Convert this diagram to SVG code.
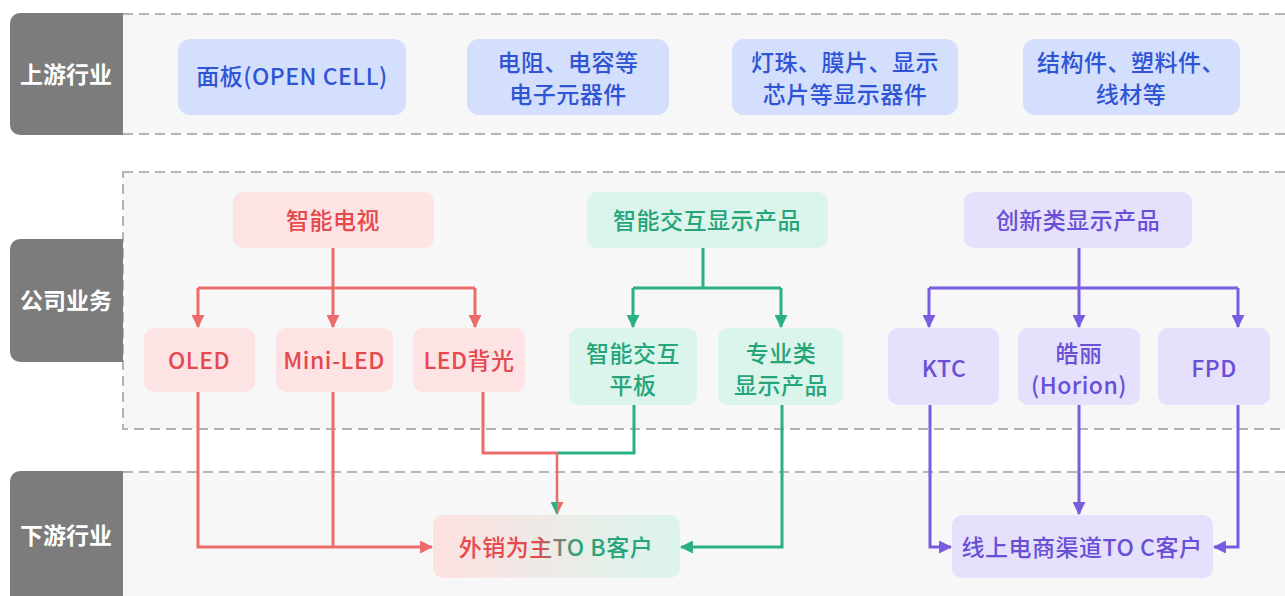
<svg xmlns="http://www.w3.org/2000/svg" width="1285" height="596" viewBox="0 0 1285 596">
<defs>
<style>
.band{fill:#f7f7f7;}
.dash{fill:none;stroke:#b4b4b4;stroke-width:2;stroke-dasharray:10 6;}
.lab{fill:#7c7c7c;}
.labt{font-family:"Noto Sans CJK SC","Noto Sans",sans-serif;font-size:23px;font-weight:700;fill:#ffffff;text-anchor:middle;dominant-baseline:central;}
.t{font-family:"Noto Sans CJK SC","Noto Sans",sans-serif;font-size:23px;font-weight:500;text-anchor:middle;dominant-baseline:central;letter-spacing:0.5px;}
.nb{fill:#d4defd;} .tb{fill:#2f55d4;}
.nr{fill:#fde3e3;} .tr{fill:#e5484d;}
.ng{fill:#dcf5ec;} .tg{fill:#27a57a;}
.np{fill:#e5e0fb;} .tp{fill:#6a4fd6;}
.lr{fill:none;stroke:#ee6b6b;stroke-width:3;}
.lg{fill:none;stroke:#2bb083;stroke-width:3;}
.lp{fill:none;stroke:#7a5ce0;stroke-width:3;}
</style>
<marker id="ar" viewBox="0 0 12 12" markerWidth="13" markerHeight="13" refX="11" refY="6" orient="auto" markerUnits="userSpaceOnUse"><path d="M0,0 L12,6 L0,12 z" fill="#ee6b6b"/></marker>
<marker id="ag" viewBox="0 0 12 12" markerWidth="13" markerHeight="13" refX="11" refY="6" orient="auto" markerUnits="userSpaceOnUse"><path d="M0,0 L12,6 L0,12 z" fill="#2bb083"/></marker>
<marker id="ap" viewBox="0 0 12 12" markerWidth="13" markerHeight="13" refX="11" refY="6" orient="auto" markerUnits="userSpaceOnUse"><path d="M0,0 L12,6 L0,12 z" fill="#7a5ce0"/></marker>
<linearGradient id="gm" x1="0" y1="0" x2="0" y2="1"><stop offset="0.5" stop-color="#ee6b6b"/><stop offset="0.5" stop-color="#2bb083"/></linearGradient>
<marker id="arg" viewBox="0 0 12 12" markerWidth="13" markerHeight="13" refX="11" refY="6" orient="auto" markerUnits="userSpaceOnUse"><path d="M0,0 L12,6 L0,12 z" fill="url(#gm)"/></marker>
<linearGradient id="gbox" x1="0" y1="0" x2="1" y2="0"><stop offset="0" stop-color="#fde1e1"/><stop offset="1" stop-color="#dbf5ec"/></linearGradient>
<linearGradient id="gtxt" x1="0" y1="0" x2="1" y2="0"><stop offset="0.4" stop-color="#e5484d"/><stop offset="0.5" stop-color="#8a7a70"/><stop offset="0.62" stop-color="#27a57a"/></linearGradient>
</defs>

<g id="bands">
<rect class="band" x="123" y="14" width="1162" height="120"/>
<path class="dash" d="M123 14 H1285 M123 134 H1285"/>
<rect class="band" x="123" y="172" width="1170" height="257"/>
<rect class="dash" x="123" y="172" width="1170" height="257"/>
<rect class="band" x="123" y="472" width="1162" height="124"/>
<path class="dash" d="M123 472 H1285"/>
</g>

<g id="label-upstream">
<path class="lab" d="M123 13 V135 H20 a10 10 0 0 1 -10 -10 V23 a10 10 0 0 1 10 -10 z"/>
<text class="labt" x="66" y="73">上游行业</text>
</g>
<g id="label-business">
<path class="lab" d="M123 239 V362 H20 a10 10 0 0 1 -10 -10 V249 a10 10 0 0 1 10 -10 z"/>
<text class="labt" x="66" y="299">公司业务</text>
</g>
<g id="label-downstream">
<path class="lab" d="M123 471 V596 H10 V481 a10 10 0 0 1 10 -10 z"/>
<text class="labt" x="66" y="534">下游行业</text>
</g>

<g id="up1"><rect class="nb" x="178" y="39" width="228" height="76" rx="12"/><text class="t tb" x="292" y="75">面板(OPEN CELL)</text></g>
<g id="up2"><rect class="nb" x="467" y="39" width="202" height="76" rx="12"/><text class="t tb" x="568" y="61">电阻、电容等</text><text class="t tb" x="568" y="93">电子元器件</text></g>
<g id="up3"><rect class="nb" x="732" y="39" width="226" height="76" rx="12"/><text class="t tb" x="845" y="61">灯珠、膜片、显示</text><text class="t tb" x="845" y="93">芯片等显示器件</text></g>
<g id="up4"><rect class="nb" x="1023" y="39" width="217" height="76" rx="12"/><text class="t tb" x="1131" y="61">结构件、塑料件、</text><text class="t tb" x="1131" y="93">线材等</text></g>

<g id="connectors">
<path class="lr" d="M333 248 V327" marker-end="url(#ar)"/>
<path class="lr" d="M198 288 H475"/>
<path class="lr" d="M198 288 V327" marker-end="url(#ar)"/>
<path class="lr" d="M475 288 V327" marker-end="url(#ar)"/>
<path class="lg" d="M703 248 V288"/>
<path class="lg" d="M633 288 H781"/>
<path class="lg" d="M633 288 V327" marker-end="url(#ag)"/>
<path class="lg" d="M781 288 V327" marker-end="url(#ag)"/>
<path class="lp" d="M1079 248 V327" marker-end="url(#ap)"/>
<path class="lp" d="M929 288 H1238"/>
<path class="lp" d="M929 288 V327" marker-end="url(#ap)"/>
<path class="lp" d="M1238 288 V327" marker-end="url(#ap)"/>
<path class="lr" d="M198 392 V547 H432" marker-end="url(#ar)"/>
<path class="lr" d="M333 392 V547"/>
<path class="lg" d="M634 405 V453 H557"/>
<path class="lr" d="M483 392 V453 H557"/>
<path class="lr" d="M557 453 V514" marker-end="url(#arg)" style="stroke-width:2.5"/>
<path class="lg" d="M782 405 V547 H681" marker-end="url(#ag)"/>
<path class="lp" d="M930 405 V547 H951" marker-end="url(#ap)"/>
<path class="lp" d="M1079 405 V514" marker-end="url(#ap)"/>
<path class="lp" d="M1238 405 V547 H1214" marker-end="url(#ap)"/>
</g>

<g id="tv"><rect class="nr" x="233" y="192" width="201" height="56" rx="10"/><text class="t tr" x="333" y="219">智能电视</text></g>
<g id="oled"><rect class="nr" x="144" y="328" width="111" height="64" rx="10"/><text class="t tr" x="199" y="359">OLED</text></g>
<g id="miniled"><rect class="nr" x="276" y="328" width="117" height="64" rx="10"/><text class="t tr" x="334" y="359">Mini-LED</text></g>
<g id="ledbl"><rect class="nr" x="413" y="328" width="112" height="64" rx="10"/><text class="t tr" x="469" y="359">LED背光</text></g>

<g id="interactive"><rect class="ng" x="587" y="192" width="241" height="56" rx="10"/><text class="t tg" x="707" y="219">智能交互显示产品</text></g>
<g id="panel"><rect class="ng" x="569" y="328" width="128" height="77" rx="10"/><text class="t tg" x="633" y="352">智能交互</text><text class="t tg" x="633" y="384">平板</text></g>
<g id="pro"><rect class="ng" x="718" y="328" width="125" height="77" rx="10"/><text class="t tg" x="781" y="352">专业类</text><text class="t tg" x="781" y="384">显示产品</text></g>

<g id="innov"><rect class="np" x="964" y="192" width="228" height="56" rx="10"/><text class="t tp" x="1078" y="219">创新类显示产品</text></g>
<g id="ktc"><rect class="np" x="888" y="328" width="111" height="77" rx="10"/><text class="t tp" x="944" y="367">KTC</text></g>
<g id="horion"><rect class="np" x="1018" y="328" width="122" height="77" rx="10"/><text class="t tp" x="1079" y="352">皓丽</text><text class="t tp" x="1079" y="384">(Horion)</text></g>
<g id="fpd"><rect class="np" x="1158" y="328" width="112" height="77" rx="10"/><text class="t tp" x="1214" y="367">FPD</text></g>

<g id="tob"><rect x="433" y="515" width="247" height="63" rx="10" fill="url(#gbox)"/><text class="t" x="556" y="546" fill="url(#gtxt)">外销为主TO B客户</text></g>
<g id="toc"><rect class="np" x="952" y="515" width="261" height="63" rx="10"/><text class="t tp" x="1082" y="546">线上电商渠道TO C客户</text></g>
</svg>
